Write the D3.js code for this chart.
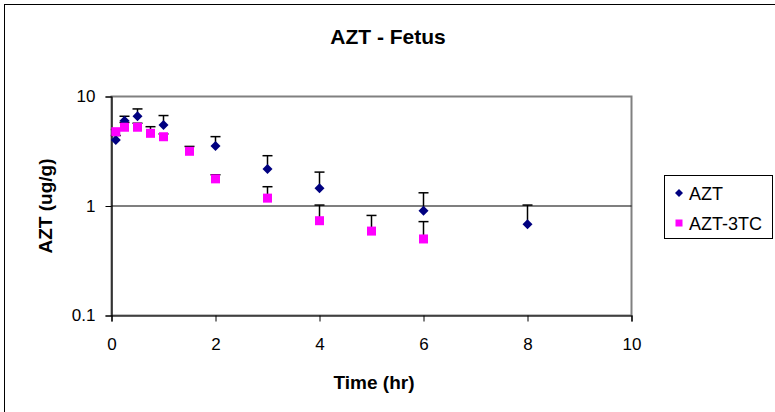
<!DOCTYPE html>
<html>
<head>
<meta charset="utf-8">
<script src="https://cdn.jsdelivr.net/npm/d3@7"></script>
<style>
  body { margin: 0; background: #fff; }
  svg text { font-family: "Liberation Sans", Arial, sans-serif; }
</style>
</head>
<body>
<svg id="chart" width="775" height="412"></svg>
<script>
// Time points (hr)
const aztTime = [0.083, 0.25, 0.5, 1, 2, 3, 4, 6, 8];
const aztMean = [4.0, 6.0, 6.6, 5.5, 3.53, 2.18, 1.45, 0.906, 0.68];
const aztUpper = [4.4, 6.6, 7.7, 6.7, 4.3, 2.88, 2.04, 1.32, 1.02];

const combTime = [0.083, 0.25, 0.5, 0.75, 1, 1.5, 2, 3, 4, 5, 6];
const combMean = [4.77, 5.24, 5.24, 4.61, 4.29, 3.16, 1.77, 1.18, 0.734, 0.59, 0.50];
const combUpper = [5.0, 5.8, 5.7, 5.3, 4.55, 3.5, 1.93, 1.5, 1.02, 0.82, 0.72];

const xTicks = [0, 2, 4, 6, 8, 10];
const yTicks = [0.1, 1, 10];
const seriesNames = ["AZT", "AZT-3TC"];

const svg = d3.select("#chart");

const plot = { left: 111.5, top: 96.5, right: 631.5, bottom: 315.5 };

// chart outer border
svg.append("rect")
    .attr("x", 4.5).attr("y", 4.5)
    .attr("width", 800).attr("height", 430)
    .attr("fill", "#fff")
    .attr("stroke", "#000")
    .attr("stroke-width", 1);

let x = d3.scaleLinear().domain([0, 10]).range([plot.left, plot.right]);
let y = d3.scaleLog().domain([0.1, 10]).range([plot.bottom, plot.top]);

// plot area border (gray top / right)
svg.append("rect")
    .attr("x", plot.left).attr("y", plot.top)
    .attr("width", plot.right - plot.left)
    .attr("height", plot.bottom - plot.top)
    .attr("fill", "#fff")
    .attr("stroke", "#808080")
    .attr("stroke-width", 2);

// gridlines
svg.append("g")
    .selectAll("line")
    .data([1])
    .enter().append("line")
    .attr("x1", plot.left).attr("x2", plot.right)
    .attr("y1", d => y(d)).attr("y2", d => y(d))
    .attr("stroke", "#000")
    .attr("stroke-width", 1.2);

// X-axis
let xAxis = d3.axisBottom(x).tickValues(xTicks).tickSize(6).tickPadding(16)
    .tickFormat(d3.format("d"));
let gx = svg.append("g")
    .attr("transform", "translate(0," + plot.bottom + ")")
    .call(xAxis);
gx.select(".domain").attr("stroke", "#000").attr("stroke-width", 1.2);
gx.selectAll("text").attr("font-size", 17).attr("fill", "#000");

// Y-axis
let yAxis = d3.axisLeft(y).tickValues(yTicks).tickSize(6).tickPadding(10)
    .tickFormat(d => d < 1 ? "0.1" : String(d));
let gy = svg.append("g")
    .attr("transform", "translate(" + plot.left + ",0)")
    .call(yAxis);
gy.select(".domain").attr("stroke", "#000").attr("stroke-width", 1.2);
gy.selectAll("text").attr("font-size", 17).attr("fill", "#000");

// error bars (upper only)
function errorBars(times, means, uppers) {
    let g = svg.append("g");
    times.forEach((t, i) => {
        g.append("line")
            .attr("x1", x(t)).attr("x2", x(t))
            .attr("y1", y(means[i])).attr("y2", y(uppers[i]))
            .attr("stroke", "#000").attr("stroke-width", 1.5);
        g.append("line")
            .attr("x1", x(t) - 5).attr("x2", x(t) + 5)
            .attr("y1", y(uppers[i])).attr("y2", y(uppers[i]))
            .attr("stroke", "#000").attr("stroke-width", 1.5);
    });
}
errorBars(aztTime, aztMean, aztUpper);
errorBars(combTime, combMean, combUpper);

const diamond = d3.symbol().type(d3.symbolSquare).size(50);

// AZT diamonds
svg.append("g")
    .selectAll("path")
    .data(aztTime.map((t, i) => [t, aztMean[i]]))
    .enter().append("path")
    .attr("d", diamond)
    .attr("transform", d => "translate(" + x(d[0]) + "," + y(d[1]) + ") rotate(45)")
    .attr("fill", "#000080");

// AZT-3TC squares
svg.append("g")
    .selectAll("rect")
    .data(combTime.map((t, i) => [t, combMean[i]]))
    .enter().append("rect")
    .attr("x", d => x(d[0]) - 4.5)
    .attr("y", d => y(d[1]) - 4.5)
    .attr("width", 9).attr("height", 9)
    .attr("fill", "#ff00ff");

// Title
svg.append("text")
    .attr("x", 388).attr("y", 44)
    .attr("text-anchor", "middle")
    .attr("font-size", 21).attr("font-weight", "bold")
    .text("AZT - Fetus");

// X-axis title
svg.append("text")
    .attr("x", 374).attr("y", 389)
    .attr("text-anchor", "middle")
    .attr("font-size", 19).attr("font-weight", "bold")
    .text("Time (hr)");

// Y-axis title
svg.append("text")
    .attr("transform", "translate(52,206) rotate(-90)")
    .attr("text-anchor", "middle")
    .attr("font-size", 19).attr("font-weight", "bold")
    .text("AZT (ug/g)");

// Legend
let legend = svg.append("g");
legend.append("rect")
    .attr("x", 664.5).attr("y", 175.5)
    .attr("width", 108).attr("height", 63)
    .attr("fill", "#fff").attr("stroke", "#000");
legend.append("path")
    .attr("d", d3.symbol().type(d3.symbolSquare).size(32))
    .attr("transform", "translate(679,193) rotate(45)")
    .attr("fill", "#000080");
legend.append("rect")
    .attr("x", 675.5).attr("y", 219.5)
    .attr("width", 7).attr("height", 7)
    .attr("fill", "#ff00ff");
legend.selectAll("text")
    .data(seriesNames)
    .enter().append("text")
    .attr("x", 689)
    .attr("y", (d, i) => 199.5 + i * 30)
    .attr("font-size", 18)
    .text(d => d);
</script>
</body>
</html>
